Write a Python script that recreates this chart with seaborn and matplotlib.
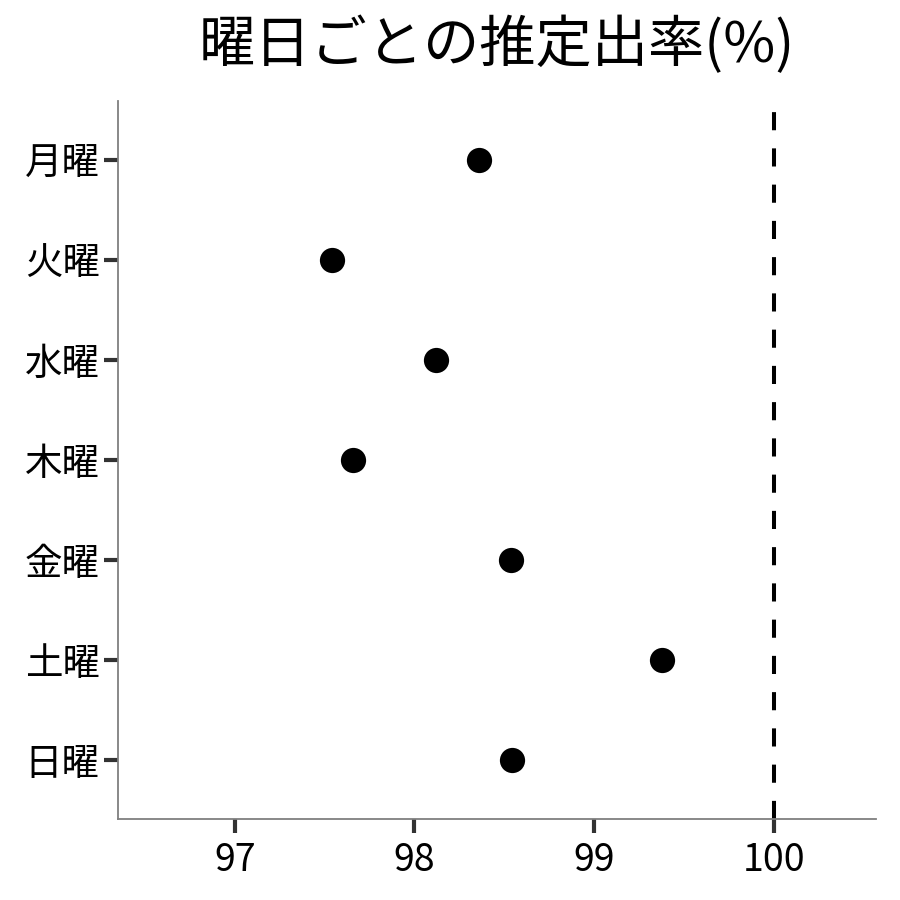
import seaborn as sns
import pandas as pd
import matplotlib.pyplot as plt

# 曜日ごとの推定出率
曜日 = ["月曜", "火曜", "水曜", "木曜", "金曜", "土曜", "日曜"]
出率 = [98.36, 97.54, 98.12, 97.66, 98.54, 99.38, 98.545]

df = pd.DataFrame({"曜日": 曜日, "出率": 出率})

sns.set_style("white")
plt.rcParams['font.family'] = ['Noto Sans CJK JP', 'DejaVu Sans']

fig = plt.figure(figsize=(9, 9), dpi=100)
ax = fig.add_axes([0.131, 0.09, 0.842, 0.798])

sns.scatterplot(data=df, x="出率", y="曜日", color="black", s=330,
                edgecolor="black", linewidth=0, ax=ax, zorder=3)
ax.axvline(100, color="black", linestyle=(0, (4.5, 4.5)), linewidth=2.9)

ax.set_xlim(96.35, 100.567)
ax.set_ylim(6.59, -0.59)
ax.set_xticks([97, 98, 99, 100])
ax.set_xlabel("")
ax.set_ylabel("")
ax.set_title("曜日ごとの推定出率(%)", fontsize=40.5, pad=28, color="black")

sns.despine(ax=ax)
for side in ["left", "bottom"]:
    ax.spines[side].set_color("#7f7f7f")
    ax.spines[side].set_linewidth(1.3)
ax.tick_params(axis="both", length=10, width=3, color="#333333",
               labelsize=27, pad=6, direction="out",
               left=True, bottom=True, labelcolor="black")
ax.tick_params(axis="y", pad=3)

fig.savefig("out.png", dpi=100)
